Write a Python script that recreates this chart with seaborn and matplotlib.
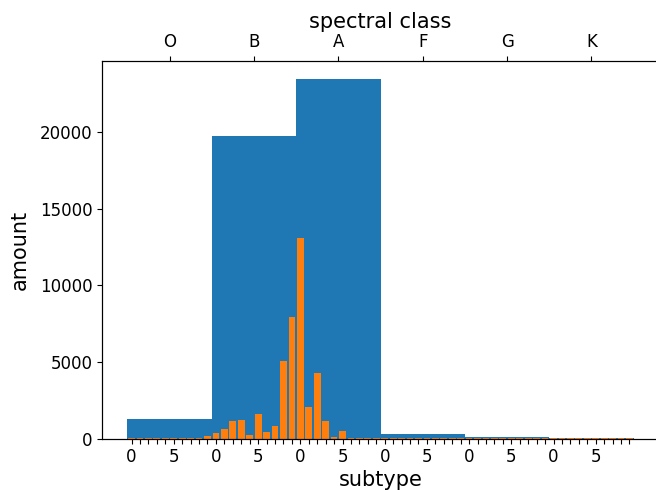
import numpy as np
import matplotlib
matplotlib.use("Agg")
import matplotlib.pyplot as plt
import seaborn as sns

# spectral classes (blue bars, one per class)
classes = ["O", "B", "A", "F", "G", "K"]
class_counts = [1240, 19750, 23450, 300, 110, 40]

# subtypes 0-9 per class (orange bars)
subtype_counts = [
    20, 10, 30, 20, 30, 20, 30, 40, 60, 150,           # O
    350, 610, 1130, 1195, 220, 1585, 410, 800, 5040, 7905,  # B
    13050, 2040, 4260, 1130, 90, 480, 20, 60, 20, 20,  # A
    60, 20, 20, 20, 10, 20, 10, 10, 10, 10,            # F
    20, 10, 20, 10, 20, 10, 10, 20, 10, 10,            # G
    20, 30, 30, 20, 10, 30, 10, 30, 10, 10,            # K
]

class_pos = np.arange(len(classes)) * 10 + 4.5
subtype_pos = np.arange(len(subtype_counts))

fig = plt.figure(figsize=(6.56, 4.9), dpi=100)
ax = fig.add_axes([102 / 656, 1 - 438.5 / 490, 557 / 656, 377.5 / 490])

sns.barplot(x=class_pos, y=class_counts, native_scale=True, width=1.0,
            color="C0", saturation=1, errorbar=None, ax=ax)
sns.barplot(x=subtype_pos, y=subtype_counts, native_scale=True, width=0.8,
            color="C1", saturation=1, errorbar=None, ax=ax)

ax.set_xlim(-3.5, 62.5)
ax.set_ylim(0, 24620)
ax.set_xticks(subtype_pos)
ax.set_xticklabels([str(i % 10) if i % 5 == 0 else "" for i in subtype_pos])
ax.set_yticks([0, 5000, 10000, 15000, 20000])
ax.tick_params(labelsize=12)
ax.set_xlabel("subtype", fontsize=15, labelpad=3)
ax.set_ylabel("amount", fontsize=15, labelpad=7)

ax2 = ax.twiny()
ax2.set_xlim(ax.get_xlim())
ax2.set_xticks(class_pos)
ax2.set_xticklabels(classes)
ax2.tick_params(labelsize=12)
ax2.set_xlabel("spectral class", fontsize=15)

fig.savefig("out.png", dpi=100)
